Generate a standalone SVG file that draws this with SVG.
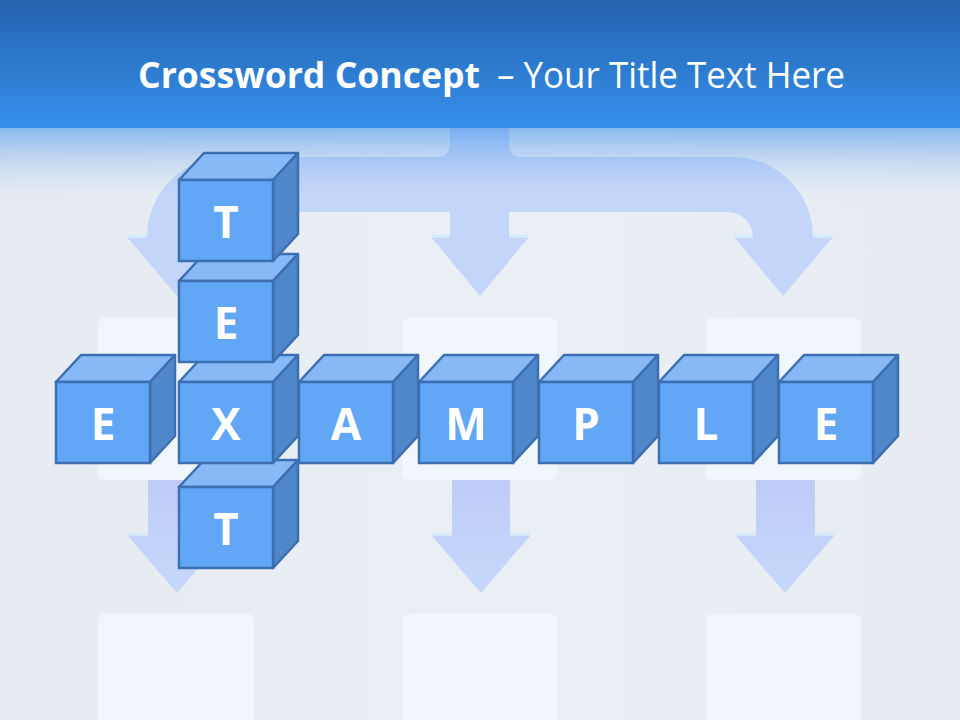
<svg xmlns="http://www.w3.org/2000/svg" xmlns:xlink="http://www.w3.org/1999/xlink" width="960" height="720" viewBox="0 0 960 720">
  <defs>
    <linearGradient id="hdr" x1="0" y1="0" x2="0" y2="1">
      <stop offset="0" stop-color="#2363ad"/>
      <stop offset="1" stop-color="#3690ec"/>
    </linearGradient>
    <linearGradient id="fade" x1="0" y1="0" x2="0" y2="1">
      <stop offset="0" stop-color="#3a8fea" stop-opacity="0.55"/>
      <stop offset="0.5" stop-color="#6aa6ec" stop-opacity="0.2"/>
      <stop offset="1" stop-color="#e8edf3" stop-opacity="0"/>
    </linearGradient>
    <linearGradient id="bg" x1="0" y1="0" x2="1" y2="0">
      <stop offset="0" stop-color="#e6ebf1"/>
      <stop offset="0.5" stop-color="#eaeff5"/>
      <stop offset="1" stop-color="#e7ecf2"/>
    </linearGradient>
    <linearGradient id="shaft" x1="0" y1="0" x2="0" y2="1">
      <stop offset="0" stop-color="#bfcbf7"/>
      <stop offset="1" stop-color="#c5d8fa"/>
    </linearGradient>
    <g id="cubeShape">
      <polygon class="top" points="0,0 25,-27 119,-27 94,0"/>
      <polygon class="side" points="94,0 119,-27 119,54 94,81"/>
      <rect class="front" x="0" y="0" width="94" height="81"/>
    </g>
    <style>
      .top{fill:#86b9f6;stroke:#3c6fb2;stroke-width:2.5;stroke-linejoin:round}
      .side{fill:#4f87c9;stroke:#3c6fb2;stroke-width:2.5;stroke-linejoin:round}
      .front{fill:#61a7f5;stroke:#3c6fb2;stroke-width:2.5}
      .letter{font-family:"Open Sans","DejaVu Sans",sans-serif;font-weight:bold;font-size:44px;fill:#ffffff;text-anchor:middle}
      .box{fill:#f1f6fc;opacity:0.9}
      .arrow{fill:#c3d5f9}
      .shoulder{fill:#d3e9fd}
    </style>
  </defs>

  <!-- background -->
  <rect x="0" y="0" width="960" height="720" fill="url(#bg)"/>

  <!-- faint boxes -->
  <g id="boxes">
    <rect class="box" x="98" y="318" width="156" height="162" rx="6"/>
    <rect class="box" x="402" y="318" width="155" height="162" rx="6"/>
    <rect class="box" x="706" y="318" width="155" height="162" rx="6"/>
    <rect class="box" x="98" y="614" width="156" height="120" rx="6"/>
    <rect class="box" x="402" y="614" width="155" height="120" rx="6"/>
    <rect class="box" x="706" y="614" width="155" height="120" rx="6"/>
  </g>

  <!-- connectors (background arrows) -->
  <g id="connectors">
    <path class="arrow" d="M 450 0 L 450 145 A 12 12 0 0 1 438 157 L 227 157 A 80 80 0 0 0 147 237 L 127 237 L 177 296 L 226 237 L 207 237 A 25 25 0 0 1 232 212 L 450 212 L 450 237 L 431 237 L 480 296 L 529 237 L 509 237 L 509 212 L 728 212 A 25 25 0 0 1 753 237 L 734 237 L 783 296 L 833 237 L 813 237 A 80 80 0 0 0 733 157 L 521 157 A 12 12 0 0 1 509 145 L 509 0 Z"/>
    <rect class="shoulder" x="127" y="235" width="20" height="3"/>
    <rect class="shoulder" x="207" y="235" width="19" height="3"/>
    <rect class="shoulder" x="431" y="235" width="19" height="3"/>
    <rect class="shoulder" x="509" y="235" width="20" height="3"/>
    <rect class="shoulder" x="734" y="235" width="19" height="3"/>
    <rect class="shoulder" x="813" y="235" width="20" height="3"/>
    <path fill="url(#shaft)" d="M 148 480 L 206 480 L 206 536 L 226 536 L 177 593 L 128 536 L 148 536 Z"/>
    <path fill="url(#shaft)" d="M 452 480 L 510 480 L 510 536 L 530 536 L 481 593 L 432 536 L 452 536 Z"/>
    <path fill="url(#shaft)" d="M 756 480 L 815 480 L 815 536 L 834 536 L 785 593 L 736 536 L 756 536 Z"/>
    <rect class="shoulder" x="128" y="533" width="20" height="3"/>
    <rect class="shoulder" x="206" y="533" width="20" height="3"/>
    <rect class="shoulder" x="432" y="533" width="20" height="3"/>
    <rect class="shoulder" x="510" y="533" width="20" height="3"/>
    <rect class="shoulder" x="736" y="533" width="20" height="3"/>
    <rect class="shoulder" x="815" y="533" width="19" height="3"/>
  </g>

  <!-- header fade and bar -->
  <rect x="0" y="128" width="960" height="80" fill="url(#fade)"/>
  <rect x="0" y="0" width="960" height="128" fill="url(#hdr)"/>
  <text id="title" y="88" font-family="'Open Sans','DejaVu Sans',sans-serif" font-size="36" fill="#ffffff"><tspan x="138" font-weight="bold" textLength="342" lengthAdjust="spacingAndGlyphs">Crossword Concept</tspan><tspan x="497" textLength="348" lengthAdjust="spacingAndGlyphs">– Your Title Text Here</tspan></text>

  <!-- cubes -->
  <g id="cube-T2" transform="translate(179,487)"><use href="#cubeShape"/><text class="letter" x="47" y="58">T</text></g>
  <g id="cube-E1" transform="translate(56,382)"><use href="#cubeShape"/><text class="letter" x="47" y="58">E</text></g>
  <g id="cube-X" transform="translate(179,382)"><use href="#cubeShape"/><text class="letter" x="47" y="58">X</text></g>
  <g id="cube-A" transform="translate(299,382)"><use href="#cubeShape"/><text class="letter" x="47" y="58">A</text></g>
  <g id="cube-M" transform="translate(419,382)"><use href="#cubeShape"/><text class="letter" x="47" y="58">M</text></g>
  <g id="cube-P" transform="translate(539,382)"><use href="#cubeShape"/><text class="letter" x="47" y="58">P</text></g>
  <g id="cube-L" transform="translate(659,382)"><use href="#cubeShape"/><text class="letter" x="47" y="58">L</text></g>
  <g id="cube-E2" transform="translate(779,382)"><use href="#cubeShape"/><text class="letter" x="47" y="58">E</text></g>
  <g id="cube-E3" transform="translate(179,281)"><use href="#cubeShape"/><text class="letter" x="47" y="58">E</text></g>
  <g id="cube-T1" transform="translate(179,180)"><use href="#cubeShape"/><text class="letter" x="47" y="58">T</text></g>
</svg>
